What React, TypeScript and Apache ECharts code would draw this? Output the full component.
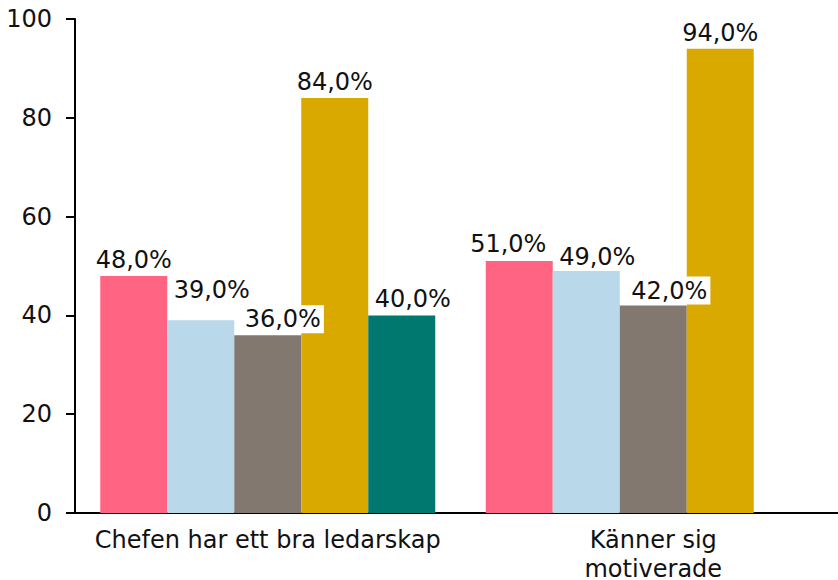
import React, { useEffect, useRef } from "react";
import * as echarts from "echarts";

const categories = ["Chefen har ett bra ledarskap", "Känner sig\nmotiverade"];
const seriesNames = ["Serie 1", "Serie 2", "Serie 3", "Serie 4", "Serie 5"];
const pinkValues = [48, 51];
const blueValues = [39, 49];
const greyValues = [36, 42];
const goldValues = [84, 94];
const tealValues: (number | null)[] = [40, null];
const yTicks = { min: 0, max: 100, interval: 20 };

const colors = ["#FF6482", "#B9D9EB", "#82786F", "#DAA900", "#00786F"];
// label nudges [dx, dy] per series per category (to mimic the reference's overlap avoidance)
const labelOffsets: number[][][] = [
  [[0, 0], [-11, -1]],
  [[11, -14], [11, 2]],
  [[15, 0], [16, 1]],
  [[0, 0], [0, 0]],
  [[11, 0], [0, 0]],
];

const fmt = (v: number) => v.toFixed(1).replace(".", ",") + "%";

export default function App() {
  const ref = useRef<HTMLDivElement>(null);
  useEffect(() => {
    if (!ref.current) return;
    const chart = echarts.init(ref.current, null, { renderer: "svg" });
    const all = [pinkValues, blueValues, greyValues, goldValues, tealValues];
    const font = "DejaVu Sans, Verdana, sans-serif";
    chart.setOption({
      animation: false,
      textStyle: { fontFamily: font },
      grid: { left: 75, top: 19, width: 771, height: 494, outerBoundsMode: "none", containLabel: false },
      xAxis: {
        type: "category",
        data: categories,
        axisLine: { show: true, lineStyle: { color: "#000", width: 2 } },
        axisTick: { show: false },
        axisLabel: {
          color: "#111",
          fontSize: 24,
          fontFamily: font,
          margin: 12,
          lineHeight: 29,
          interval: 0,
        },
      },
      yAxis: {
        type: "value",
        min: yTicks.min,
        max: yTicks.max,
        interval: yTicks.interval,
        splitLine: { show: false },
        axisLine: { show: true, lineStyle: { color: "#000", width: 2 } },
        axisTick: { show: true, length: 9, lineStyle: { color: "#000", width: 2 } },
        axisLabel: { color: "#111", fontSize: 24, fontFamily: font, margin: 23 },
      },
      series: all.map((vals, si) => ({
        name: seriesNames[si],
        type: "bar",
        barWidth: 67,
        barGap: "0%",
        itemStyle: { color: colors[si] },
        data: vals.map((v, ci) =>
          v == null
            ? null
            : {
                value: v,
                label: { offset: labelOffsets[si][ci] },
              }
        ),
        label: {
          show: true,
          position: "top",
          distance: 2,
          color: "#111",
          fontSize: 24,
          fontFamily: font,
          backgroundColor: "#fff",
          padding: [2, 3],
          formatter: (p: any) => fmt(p.value),
        },
      })),
    });
    return () => chart.dispose();
  }, []);
  return (
    <div
      ref={ref}
      style={{ position: "fixed", left: 0, top: 0, width: 838, height: 580, background: "#fff" }}
    />
  );
}
